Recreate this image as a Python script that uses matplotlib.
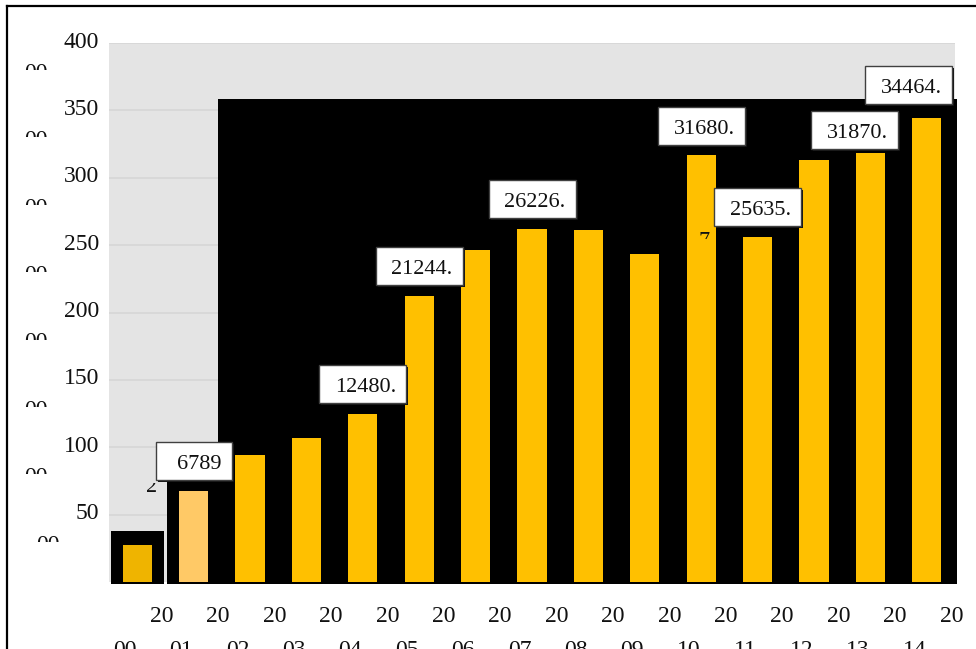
import matplotlib
matplotlib.use("Agg")
import matplotlib.pyplot as plt
from matplotlib.patches import Rectangle
from matplotlib.lines import Line2D

# ── Data ────────────────────────────────────────────────────────────────
years = ["2000", "2001", "2002", "2003", "2004", "2005", "2006", "2007",
         "2008", "2009", "2010", "2011", "2012", "2013", "2014"]
values = [2745, 6789, 9420, 10680, 12480, 21244, 24650, 26226,
          26110, 24350, 31680, 25635, 31300, 31870, 34464]
label_idx = [1, 4, 5, 7, 10, 11, 13, 14]
label_txt = ["6789", "12480.", "21244.", "26226.", "31680.", "25635.",
             "31870.", "34464."]
y_ticks = [5000, 10000, 15000, 20000, 25000, 30000, 35000, 40000]

# ── Style ───────────────────────────────────────────────────────────────
W, H = 976, 649
FONT = "Liberation Serif"
C_BG = "#E4E4E4"
C_GRID = "#D6D6D6"
bar_colors = ["#EFB400", "#FFC966"] + ["#FFC000"] * 13
# label box nudges (px): dx, gap above bar top
nudge = {13: (-16, 4), 14: (-18, 14)}

fig = plt.figure(figsize=(W / 100, H / 100), dpi=100)
fig.patch.set_facecolor("white")
ax = fig.add_axes([109 / W, 67 / H, 846 / W, 539 / H])
ax.set_xlim(-0.5, 14.5)
ax.set_ylim(0, 40000)
ax.set_facecolor(C_BG)
for s in ax.spines.values():
    s.set_visible(False)
ax.set_xticks([])
ax.set_yticks([])
for v in y_ticks:
    ax.axhline(v, color=C_GRID, lw=1.2, zorder=0)

x = list(range(len(years)))

# black backdrop blocks
blocks = [(-0.47, 0.94, 3783), (0.523, 0.904, 7567), (1.427, 13.1, 35831)]
for x0, w, top in blocks:
    ax.add_patch(Rectangle((x0, -150), w, top + 150, facecolor="black",
                           edgecolor="none", zorder=1, clip_on=False))

ax.bar(x, values, width=0.52, color=bar_colors, zorder=3)


def img_px(xd, yd):
    """data -> image pixel coords (origin top-left)"""
    dx, dy = ax.transData.transform((xd, yd))
    return dx, H - dy


def ftxt(px, py, s, clip=None, **kw):
    t = fig.text(px / W, 1 - py / H, s, family=FONT, **kw)
    if clip is not None:
        cx0, cy0, cx1, cy1 = clip
        r = Rectangle((cx0 / W, 1 - cy1 / H), (cx1 - cx0) / W, (cy1 - cy0) / H,
                      transform=fig.transFigure)
        t.set_clip_on(True)
        t.set_clip_path(r)
    return t


# data label boxes
for i, s in zip(label_idx, label_txt):
    bx, by = img_px(i, values[i])
    dx, gap = nudge.get(i, (0, 10.5))
    bw = 76 if len(s) < 6 else 87
    bh = 38
    cx = bx + dx
    bottom = by - gap
    left = cx - bw / 2
    fig.add_artist(Rectangle(((left + 2) / W, 1 - (bottom + 2) / H), bw / W,
                             bh / H, transform=fig.transFigure,
                             facecolor="#111111", edgecolor="none", zorder=5))
    fig.add_artist(Rectangle((left / W, 1 - bottom / H), bw / W, bh / H,
                             transform=fig.transFigure, facecolor="white",
                             edgecolor="#404040", lw=1.0, zorder=6))
    ftxt(left + bw - 10, bottom - bh / 2 + 8, s, fontsize=16, ha="right",
         va="baseline", color="#111111", zorder=7)

# clipped label fragments
ftxt(152, 492, "2", clip=(140, 483, 165, 495), fontsize=16, ha="center",
     va="baseline", color="#111111", zorder=7)
ftxt(704, 246, "7", clip=(690, 230, 715, 239), fontsize=16, ha="center",
     va="baseline", color="#111111", zorder=7)

# y tick labels (wrapped, second line clipped)
for v in y_ticks:
    _, gy = img_px(0, v)
    lab = str(v // 100)
    ftxt(99, gy + 4.5, lab, fontsize=17, ha="right", va="baseline",
         color="#111111")
    rx = 84 - 12 * len(lab)
    ftxt(rx, gy + 36, "00", clip=(0, gy + 20, 105, gy + 27), fontsize=17,
         ha="right", va="baseline", color="#111111")

# x tick labels (wrapped, second line cut by figure edge)
for i, yr in zip(x, years):
    cx, _ = img_px(i, 0)
    ftxt(cx + 24.5, 622, yr[:2], fontsize=17, ha="center", va="baseline",
         color="#111111")
    ftxt(cx - 12.5, 656, yr[2:], fontsize=17, ha="center", va="baseline",
         color="#111111")

# outer frame
fig.add_artist(Line2D([7 / W, 7 / W], [1 - 6 / H, 0], color="black", lw=1.6,
                      transform=fig.transFigure))
fig.add_artist(Line2D([7 / W, 1], [1 - 6 / H, 1 - 6 / H], color="black",
                      lw=1.6, transform=fig.transFigure))

fig.savefig("out.png", dpi=100)
